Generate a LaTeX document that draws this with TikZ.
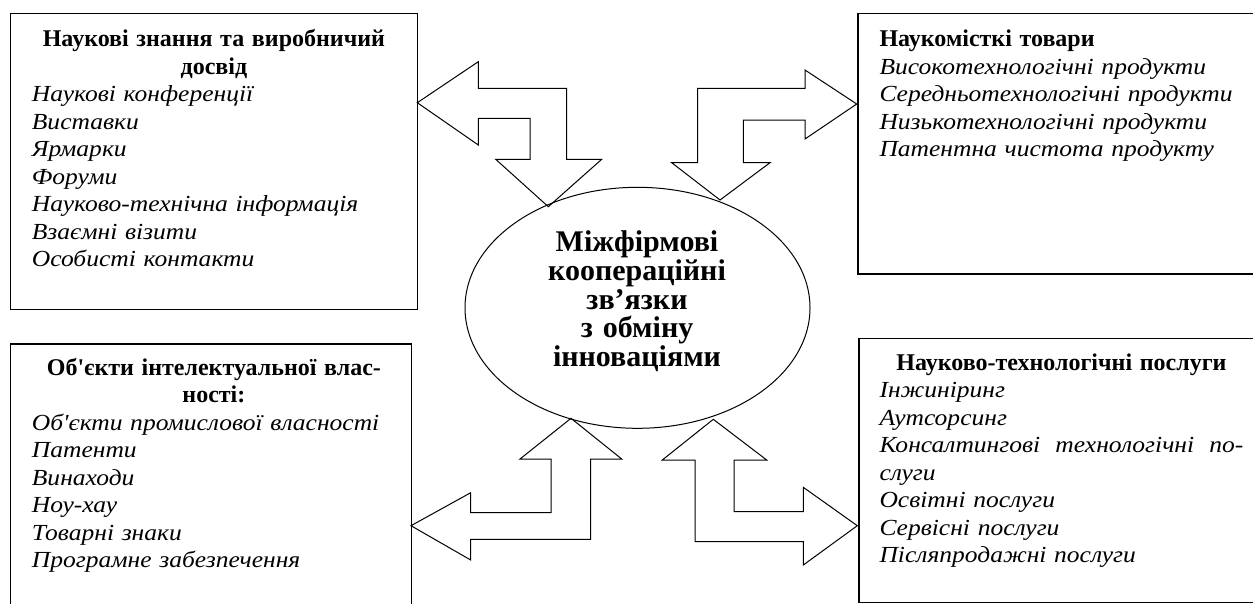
\documentclass[tikz,border=0pt]{standalone}
\usepackage{fontspec}
\setmainfont{Liberation Serif}[Ligatures=TeXOff]
\usetikzlibrary{shapes.geometric}
\newcommand\bxtitle[1]{\leavevmode\hbox to\linewidth{\hss\bxbf #1\hss}}
\newcommand\bxbf{\bfseries\fontsize{24}{27.5}\selectfont}
\newcommand\bxit{\itshape\addfontfeature{FakeStretch=1.11}}
\begin{document}
\begin{tikzpicture}[x=1pt,y=-1pt,
  box/.style={draw, line width=1.2pt, inner sep=0pt, anchor=north west},
  barrow/.style={draw, line width=1pt, line join=miter},
  txt/.style={anchor=base west, text width=364pt, align=left, inner sep=0pt,
    font=\fontsize{23}{27.5}\selectfont},
  ctxt/.style={anchor=base, text width=260pt, align=center, inner sep=0pt,
    font=\bfseries\fontsize{30}{28.75}\selectfont}]
\useasboundingbox (0,0) rectangle (1253,603);

% boxes
\node[box, minimum width=406.7pt, minimum height=296.3pt] (b1) at (10,12.7) {};
\node[box, minimum width=410pt, minimum height=260.6pt] (b2) at (857.3,12.7) {};
\node[box, minimum width=400.7pt, minimum height=270pt] (b3) at (10,343.3) {};
\node[box, minimum width=410pt, minimum height=264pt] (b4) at (858.3,337.7) {};

% centre ellipse
\node[ellipse, draw, line width=1pt, minimum width=345pt, minimum height=241pt, inner sep=0pt] (c) at (637.5,307.8) {};
\node[ctxt] (ct) at (637,251.7) {Міжфірмові\\коопераційні\\зв’язки\\з обміну\\інноваціями};

% texts
\node[txt] (t1) at (31.7,46.7) {\bxtitle{Наукові знання та виробничий}\\
\bxtitle{досвід}\\
\bxit Наукові конференції\\
Виставки\\
Ярмарки\\
Форуми\\
Науково-технічна інформація\\
Взаємні візити\\
Особисті контакти};

\node[txt] (t2) at (879.3,46.5) {{\bxbf Наукомісткі товари}\\
\bxit Високотехнологічні продукти\\
Середньотехнологічні продукти\\
Низькотехнологічні продукти\\
Патентна чистота продукту};

\node[txt] (t3) at (31.7,375) {\bxtitle{Об'єкти інтелектуальної влас-}\\
\bxtitle{ності:}\\
\bxit Об'єкти промислової власності\\
Патенти\\
Винаходи\\
Ноу-хау\\
Товарні знаки\\
Програмне забезпечення};

\node[txt] (t4) at (879.3,370) {\bxtitle{Науково-технологічні послуги}\\
\bxit Інжиніринг\\
Аутсорсинг\\
\leavevmode\hbox to\linewidth{Консалтингові\hfill технологічні\hfill по-}\\
слуги\\
Освітні послуги\\
Сервісні послуги\\
Післяпродажні послуги};

% block arrows
\draw[barrow] (417.3,102.7) -- (478.3,61.7) -- (478.3,88.3) -- (566.7,88.3) -- (566.7,159.3)
  -- (601.7,159.3) -- (548.3,206.7) -- (495.7,159.3) -- (530,159.3) -- (530,118.3)
  -- (478.3,118.3) -- (478.3,145) -- cycle;
\draw[barrow] (856.7,104) -- (805,139) -- (805,120) -- (743.3,120) -- (743.3,162.7)
  -- (770,162.7) -- (720,200) -- (671.7,162.7) -- (697.7,162.7) -- (697.7,88.3)
  -- (805,88.3) -- (805,70) -- cycle;
\draw[barrow] (571,418.3) -- (621.7,459) -- (590.7,459) -- (590.7,539.3) -- (470.7,539.3)
  -- (470.7,560) -- (411,525.7) -- (470.7,492.7) -- (470.7,512.7) -- (551,512.7)
  -- (551,459) -- (520,459) -- cycle;
\draw[barrow] (713.3,419.3) -- (766.7,460) -- (734,460) -- (734,511.7) -- (803.3,511.7)
  -- (803.3,487.3) -- (857.3,525.7) -- (803.3,565) -- (803.3,541.7) -- (695,541.7)
  -- (695,460) -- (662.3,460) -- cycle;
\end{tikzpicture}
\end{document}
